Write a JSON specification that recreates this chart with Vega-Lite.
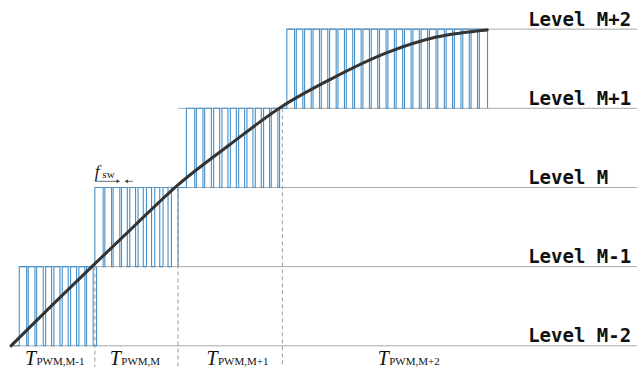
{
  "$schema": "https://vega.github.io/schema/vega-lite/v6.json",
  "width": 638,
  "height": 369,
  "autosize": {"type": "fit", "contains": "padding"},
  "padding": 0,
  "background": "white",
  "config": {"view": {"stroke": null}},
  "datasets": {
    "levels": [
      {"level": 0, "start": 10, "name": "Level M-2"},
      {"level": 1, "start": 19.3, "name": "Level M-1"},
      {"level": 2, "start": 95, "name": "Level M"},
      {"level": 3, "start": 178.3, "name": "Level M+1"},
      {"level": 4, "start": 287.3, "name": "Level M+2"}
    ],
    "dividers": [
      {"t": 95, "top": 1},
      {"t": 178.3, "top": 2},
      {"t": 282.8, "top": 3}
    ],
    "wave": [
      {"s": 1, "t": 10, "v": 0}, {"s": 1, "t": 19.3, "v": 1},
      {"s": 1, "t": 26.7, "v": 0}, {"s": 1, "t": 28.3, "v": 1},
      {"s": 1, "t": 35, "v": 0}, {"s": 1, "t": 36.7, "v": 1},
      {"s": 1, "t": 43.3, "v": 0}, {"s": 1, "t": 45.7, "v": 1},
      {"s": 1, "t": 51.7, "v": 0}, {"s": 1, "t": 54, "v": 1},
      {"s": 1, "t": 60, "v": 0}, {"s": 1, "t": 62.3, "v": 1},
      {"s": 1, "t": 68.3, "v": 0}, {"s": 1, "t": 70.7, "v": 1},
      {"s": 1, "t": 76.7, "v": 0}, {"s": 1, "t": 79, "v": 1},
      {"s": 1, "t": 85, "v": 0}, {"s": 1, "t": 86.7, "v": 1},
      {"s": 1, "t": 93.3, "v": 0}, {"s": 1, "t": 96.7, "v": 1},
      {"s": 2, "t": 94.9, "v": 1}, {"s": 2, "t": 95, "v": 2},
      {"s": 2, "t": 103.3, "v": 1}, {"s": 2, "t": 105, "v": 2},
      {"s": 2, "t": 111.7, "v": 1}, {"s": 2, "t": 113.3, "v": 2},
      {"s": 2, "t": 120, "v": 1}, {"s": 2, "t": 121.7, "v": 2},
      {"s": 2, "t": 127.5, "v": 1}, {"s": 2, "t": 130, "v": 2},
      {"s": 2, "t": 135.8, "v": 1}, {"s": 2, "t": 138.3, "v": 2},
      {"s": 2, "t": 143.5, "v": 1}, {"s": 2, "t": 146.7, "v": 2},
      {"s": 2, "t": 151.8, "v": 1}, {"s": 2, "t": 155, "v": 2},
      {"s": 2, "t": 160, "v": 1}, {"s": 2, "t": 163.3, "v": 2},
      {"s": 2, "t": 168.3, "v": 1}, {"s": 2, "t": 171.7, "v": 2},
      {"s": 2, "t": 178.3, "v": 1},
      {"s": 3, "t": 178.3, "v": 2}, {"s": 3, "t": 186.7, "v": 3},
      {"s": 3, "t": 195, "v": 2}, {"s": 3, "t": 196.7, "v": 3},
      {"s": 3, "t": 203.3, "v": 2}, {"s": 3, "t": 205, "v": 3},
      {"s": 3, "t": 211.7, "v": 2}, {"s": 3, "t": 214, "v": 3},
      {"s": 3, "t": 220, "v": 2}, {"s": 3, "t": 222.3, "v": 3},
      {"s": 3, "t": 228.3, "v": 2}, {"s": 3, "t": 230.7, "v": 3},
      {"s": 3, "t": 236.7, "v": 2}, {"s": 3, "t": 239, "v": 3},
      {"s": 3, "t": 245, "v": 2}, {"s": 3, "t": 247.3, "v": 3},
      {"s": 3, "t": 253.3, "v": 2}, {"s": 3, "t": 255.7, "v": 3},
      {"s": 3, "t": 261.7, "v": 2}, {"s": 3, "t": 264, "v": 3},
      {"s": 3, "t": 270, "v": 2}, {"s": 3, "t": 271.7, "v": 3},
      {"s": 3, "t": 278.3, "v": 2}, {"s": 3, "t": 280, "v": 3},
      {"s": 3, "t": 283.3, "v": 3},
      {"s": 4, "t": 283.3, "v": 3}, {"s": 4, "t": 287.3, "v": 4},
      {"s": 4, "t": 295, "v": 3}, {"s": 4, "t": 296.8, "v": 4},
      {"s": 4, "t": 303.3, "v": 3}, {"s": 4, "t": 305.1, "v": 4},
      {"s": 4, "t": 311.7, "v": 3}, {"s": 4, "t": 313.5, "v": 4},
      {"s": 4, "t": 320, "v": 3}, {"s": 4, "t": 321.8, "v": 4},
      {"s": 4, "t": 328.3, "v": 3}, {"s": 4, "t": 330.1, "v": 4},
      {"s": 4, "t": 336.7, "v": 3}, {"s": 4, "t": 338.5, "v": 4},
      {"s": 4, "t": 345, "v": 3}, {"s": 4, "t": 346.8, "v": 4},
      {"s": 4, "t": 353.3, "v": 3}, {"s": 4, "t": 355.1, "v": 4},
      {"s": 4, "t": 361.7, "v": 3}, {"s": 4, "t": 363.5, "v": 4},
      {"s": 4, "t": 370, "v": 3}, {"s": 4, "t": 371.8, "v": 4},
      {"s": 4, "t": 378.3, "v": 3}, {"s": 4, "t": 380.1, "v": 4},
      {"s": 4, "t": 386.7, "v": 3}, {"s": 4, "t": 388.5, "v": 4},
      {"s": 4, "t": 395, "v": 3}, {"s": 4, "t": 396.8, "v": 4},
      {"s": 4, "t": 403.3, "v": 3}, {"s": 4, "t": 405.1, "v": 4},
      {"s": 4, "t": 411.7, "v": 3}, {"s": 4, "t": 413.5, "v": 4},
      {"s": 4, "t": 420, "v": 3}, {"s": 4, "t": 421.8, "v": 4},
      {"s": 4, "t": 428.3, "v": 3}, {"s": 4, "t": 430.1, "v": 4},
      {"s": 4, "t": 436.7, "v": 3}, {"s": 4, "t": 438.5, "v": 4},
      {"s": 4, "t": 445, "v": 3}, {"s": 4, "t": 446.8, "v": 4},
      {"s": 4, "t": 453.3, "v": 3}, {"s": 4, "t": 455.1, "v": 4},
      {"s": 4, "t": 461.7, "v": 3}, {"s": 4, "t": 463.5, "v": 4},
      {"s": 4, "t": 470, "v": 3}, {"s": 4, "t": 471.8, "v": 4},
      {"s": 4, "t": 478.3, "v": 3}, {"s": 4, "t": 480.1, "v": 4},
      {"s": 4, "t": 488.3, "v": 3}
    ],
    "curve": [
      {"t": 11, "v": 0},
      {"t": 52, "v": 0.51},
      {"t": 92, "v": 1.0},
      {"t": 135, "v": 1.52},
      {"t": 178, "v": 2.03},
      {"t": 230, "v": 2.54},
      {"t": 282, "v": 3.02},
      {"t": 330, "v": 3.36},
      {"t": 387, "v": 3.70},
      {"t": 437, "v": 3.90},
      {"t": 488, "v": 3.99}
    ],
    "periods": [
      {"t": 25, "sub": "PWM,M-1"},
      {"t": 110, "sub": "PWM,M"},
      {"t": 206.7, "sub": "PWM,M+1"},
      {"t": 378.3, "sub": "PWM,M+2"}
    ],
    "fsw": [{"t": 95, "f": "f", "sub": "sw"}],
    "arrowLines": [
      {"t": 95, "t2": 119},
      {"t": 126, "t2": 133}
    ],
    "headRight": [{"t": 118.5}],
    "headLeft": [{"t": 126.5}]
  },
  "layer": [
    {
      "data": {"name": "levels"},
      "mark": {"type": "rule", "color": "#a8a8a8", "strokeWidth": 1},
      "encoding": {
        "x": {"field": "start", "type": "quantitative", "scale": {"domain": [0, 638], "nice": false, "zero": false}, "axis": null},
        "x2": {"datum": 638},
        "y": {"field": "level", "type": "quantitative", "scale": {"domain": [-0.2676, 4.368], "nice": false, "zero": false}, "axis": null}
      }
    },
    {
      "data": {"name": "dividers"},
      "mark": {"type": "rule", "color": "#9a9a9a", "strokeWidth": 1, "strokeDash": [4, 3]},
      "encoding": {
        "x": {"field": "t", "type": "quantitative"},
        "y": {"field": "top", "type": "quantitative"},
        "y2": {"datum": -0.2676}
      }
    },
    {
      "data": {"name": "wave"},
      "mark": {"type": "line", "interpolate": "step-after", "color": "#4890c8", "strokeWidth": 1.1},
      "encoding": {
        "x": {"field": "t", "type": "quantitative"},
        "y": {"field": "v", "type": "quantitative"},
        "detail": {"field": "s", "type": "nominal"}
      }
    },
    {
      "data": {"name": "curve"},
      "mark": {"type": "line", "interpolate": "monotone", "color": "#333333", "strokeWidth": 3, "strokeCap": "round"},
      "encoding": {
        "x": {"field": "t", "type": "quantitative"},
        "y": {"field": "v", "type": "quantitative"}
      }
    },
    {
      "data": {"name": "levels"},
      "mark": {"type": "text", "font": "DejaVu Sans Mono", "fontWeight": "bold", "fontSize": 19, "align": "left", "baseline": "alphabetic", "dy": -3.5, "color": "#111111"},
      "encoding": {
        "x": {"datum": 529},
        "y": {"field": "level", "type": "quantitative"},
        "text": {"field": "name"}
      }
    },
    {
      "data": {"name": "periods"},
      "mark": {"type": "text", "font": "Liberation Serif", "fontStyle": "italic", "fontSize": 20, "align": "left", "baseline": "alphabetic", "color": "#111111"},
      "encoding": {
        "x": {"field": "t", "type": "quantitative"},
        "y": {"datum": -0.239},
        "text": {"value": "T"}
      }
    },
    {
      "data": {"name": "periods"},
      "mark": {"type": "text", "font": "Liberation Serif", "fontSize": 11, "align": "left", "baseline": "alphabetic", "dx": 11.5, "color": "#111111"},
      "encoding": {
        "x": {"field": "t", "type": "quantitative"},
        "y": {"datum": -0.239},
        "text": {"field": "sub"}
      }
    },
    {
      "data": {"name": "fsw"},
      "mark": {"type": "text", "font": "Liberation Serif", "fontStyle": "italic", "fontSize": 17, "align": "left", "baseline": "alphabetic", "color": "#111111"},
      "encoding": {
        "x": {"field": "t", "type": "quantitative"},
        "y": {"datum": 2.135},
        "text": {"field": "f"}
      }
    },
    {
      "data": {"name": "fsw"},
      "mark": {"type": "text", "font": "Liberation Serif", "fontSize": 11, "align": "left", "baseline": "alphabetic", "dx": 7.5, "color": "#111111"},
      "encoding": {
        "x": {"field": "t", "type": "quantitative"},
        "y": {"datum": 2.12},
        "text": {"field": "sub"}
      }
    },
    {
      "data": {"name": "arrowLines"},
      "mark": {"type": "rule", "color": "#444444", "strokeWidth": 0.8},
      "encoding": {
        "x": {"field": "t", "type": "quantitative"},
        "x2": {"field": "t2"},
        "y": {"datum": 2.078}
      }
    },
    {
      "data": {"name": "headRight"},
      "mark": {"type": "point", "shape": "triangle-right", "filled": true, "size": 16, "color": "#444444", "opacity": 1},
      "encoding": {
        "x": {"field": "t", "type": "quantitative"},
        "y": {"datum": 2.078}
      }
    },
    {
      "data": {"name": "headLeft"},
      "mark": {"type": "point", "shape": "triangle-left", "filled": true, "size": 16, "color": "#444444", "opacity": 1},
      "encoding": {
        "x": {"field": "t", "type": "quantitative"},
        "y": {"datum": 2.078}
      }
    }
  ]
}
